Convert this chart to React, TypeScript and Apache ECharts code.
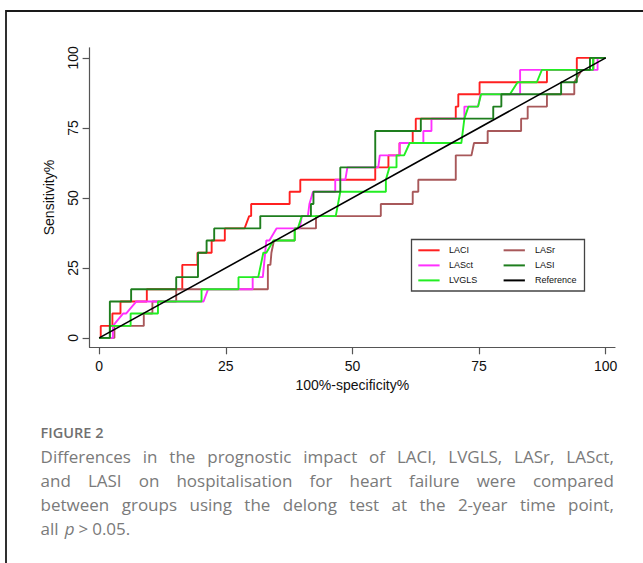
import React, { useEffect, useRef } from "react";
import * as echarts from "echarts";

// ---------- data ----------
const xTicks = [0, 25, 50, 75, 100];
const yTicks = [0, 25, 50, 75, 100];

const laci: number[][] = [
  [0, 0], [0.3, 0], [0.3, 4.3], [2.6, 4.3], [2.6, 8.7], [4.2, 8.7], [4.2, 13.0], [9.4, 13.0], [9.4, 17.4],
  [16.4, 17.4], [16.4, 26.1], [19.4, 26.1], [19.4, 30.4], [22.2, 30.4], [22.2, 34.8], [24.8, 34.8], [24.8, 39.1],
  [28.7, 39.1], [29.6, 43.5], [30.0, 43.5], [30.0, 47.8], [37.6, 47.8], [37.6, 52.2], [39.7, 52.2], [39.7, 56.5],
  [54.5, 56.5], [54.5, 60.9], [57.1, 60.9], [57.1, 65.2], [59.3, 65.2], [59.3, 69.6], [61.9, 69.6], [61.9, 73.9],
  [62.5, 73.9], [62.5, 78.3], [70.4, 78.3], [70.4, 82.6], [70.9, 82.6], [70.9, 87.0], [75.1, 87.0], [75.1, 91.3],
  [88.4, 91.3], [88.4, 95.7], [94.3, 95.7], [94.3, 100], [100, 100],
];

const lasr: number[][] = [
  [0, 0], [3.0, 0], [3.0, 4.3], [8.8, 4.3], [8.8, 8.7], [10.5, 8.7], [10.5, 13.0], [15.2, 13.0], [15.2, 17.4],
  [33.3, 17.4], [33.3, 26.1], [33.8, 26.1], [34.0, 30.4], [34.5, 34.8], [38.6, 34.8], [38.6, 39.1], [42.8, 39.1],
  [42.8, 43.5], [55.6, 43.5], [55.6, 47.8], [61.9, 47.8], [61.9, 52.2], [63.0, 52.2], [63.0, 56.5], [70.4, 56.5],
  [70.4, 65.2], [73.5, 65.2], [74.0, 69.6], [76.7, 69.6], [76.7, 73.9], [83.3, 73.9], [83.3, 78.3], [84.6, 78.3],
  [84.6, 82.6], [88.4, 82.6], [88.4, 87.0], [93.8, 87.0], [93.8, 91.3], [95.3, 95.7], [97.6, 95.7], [97.6, 100],
  [100, 100],
];

const lasct: number[][] = [
  [0, 0], [2.7, 0], [2.7, 4.3], [4.7, 8.7], [5.3, 8.7], [7.3, 13.0], [20.6, 13.0], [21.5, 17.4], [30.3, 17.4],
  [30.3, 21.7], [32.3, 21.7], [33.0, 34.8], [33.6, 34.8], [35.0, 39.1], [39.6, 39.1], [40.0, 43.5], [41.2, 43.5],
  [41.5, 47.8], [42.2, 52.2], [46.6, 52.2], [46.6, 56.5], [48.6, 56.5], [49.0, 60.9], [55.1, 60.9], [55.4, 65.2],
  [59.3, 65.2], [59.3, 69.6], [64.0, 69.6], [64.0, 73.9], [65.6, 73.9], [65.6, 78.3], [72.1, 78.3], [72.1, 82.6],
  [74.8, 82.6], [75.3, 87.0], [83.1, 87.0], [83.1, 95.7], [98.4, 95.7], [98.4, 100], [100, 100],
];

const lvgls: number[][] = [
  [0, 0], [2.1, 0], [2.1, 4.3], [6.2, 4.3], [6.2, 8.7], [11.6, 8.7], [11.6, 13.0], [20.2, 13.0], [20.2, 17.4],
  [27.5, 17.4], [27.5, 21.7], [31.4, 21.7], [32.4, 30.4], [33.0, 30.4], [34.4, 34.8], [38.6, 34.8], [38.6, 39.1],
  [39.2, 39.1], [40.0, 43.5], [46.7, 43.5], [47.6, 52.2], [56.6, 52.2], [56.6, 56.5], [57.3, 60.9], [58.7, 60.9],
  [58.7, 65.2], [60.2, 65.2], [61.3, 69.6], [71.5, 69.6], [72.1, 78.3], [72.9, 82.6], [74.8, 82.6], [75.4, 87.0],
  [81.1, 87.0], [82.6, 91.3], [86.4, 91.3], [87.4, 95.7], [97.5, 95.7], [97.5, 100], [100, 100],
];

const lasi: number[][] = [
  [0, 0], [2.1, 0], [2.1, 13.0], [6.3, 13.0], [6.3, 17.4], [15.2, 17.4], [15.2, 21.7], [19.5, 21.7], [19.5, 30.4],
  [21.2, 30.4], [21.2, 34.8], [22.7, 34.8], [22.7, 39.1], [31.8, 39.1], [31.8, 43.5], [41.8, 43.5], [41.8, 47.8],
  [42.3, 47.8], [42.3, 52.2], [47.6, 52.2], [47.6, 60.9], [54.5, 60.9], [54.5, 73.9], [63.5, 73.9], [63.5, 78.3],
  [77.8, 78.3], [77.8, 82.6], [79.4, 82.6], [79.4, 87.0], [91.2, 87.0], [91.2, 91.3], [94.3, 91.3], [94.3, 95.7],
  [96.9, 95.7], [96.9, 100], [100, 100],
];

const reference: number[][] = [[0, 0], [100, 100]];

const seriesNames = ["LACI", "LASr", "LASct", "LVGLS", "LASI", "Reference"];
const seriesData = [laci, lasr, lasct, lvgls, lasi, reference];
const seriesColors = ["#ff2020", "#a8585a", "#ff30ff", "#22ee22", "#1e7e1e", "#000000"];

// legend layout order (column-major as in the reference)
const legendCol1 = ["LACI", "LASct", "LVGLS"];
const legendCol2 = ["LASr", "LASI", "Reference"];

const xTitle = "100%-specificity%";
const yTitle = "Sensitivity%";

const captionTitle = "FIGURE 2";
const captionLines = [
  "Differences in the prognostic impact of LACI, LVGLS, LASr, LASct,",
  "and LASI on hospitalisation for heart failure were compared",
  "between groups using the delong test at the 2-year time point,",
];

const AXIS_FONT = "'Liberation Sans', Arial, sans-serif";
const CAP_FONT = "'Open Sans', sans-serif";

export default function App() {
  const ref = useRef<HTMLDivElement>(null);

  useEffect(() => {
    if (!ref.current) return;
    const chart = echarts.init(ref.current, undefined, { renderer: "svg" });

    const colorOf = (n: string) => seriesColors[seriesNames.indexOf(n)];

    // legend graphics
    const legendEls: any[] = [
      {
        type: "rect",
        shape: { x: 411.5, y: 239.5, width: 173, height: 51.5 },
        style: { fill: "#fff", stroke: "#444", lineWidth: 1.3 },
        z: 10,
      },
    ];
    const rowsY = [250.3, 265.4, 280.4];
    [legendCol1, legendCol2].forEach((col, ci) => {
      const lx = ci === 0 ? 418.3 : 503.6;
      const tx = ci === 0 ? 449 : 535;
      col.forEach((name, ri) => {
        legendEls.push({
          type: "line",
          shape: { x1: lx, y1: rowsY[ri], x2: lx + 21.3, y2: rowsY[ri] },
          style: { stroke: colorOf(name), lineWidth: 2 },
          z: 11,
        });
        legendEls.push({
          type: "text",
          x: tx,
          y: rowsY[ri],
          style: {
            text: name,
            font: `9px ${AXIS_FONT}`,
            fill: "#111",
            textVerticalAlign: "middle",
            verticalAlign: "middle",
          },
          z: 11,
        });
      });
    });

    // caption graphics (justified lines)
    const canvas = document.createElement("canvas");
    const ctx = canvas.getContext("2d")!;
    const capSize = 17;
    const capFontStr = `${capSize}px "Open Sans"`;
    ctx.font = capFontStr;
    const X0 = 40.6;
    const X1 = 613.8;
    const lineYs = [456.2, 480.4, 504.6, 528.0];
    const capColor = "#7a7a7a";
    const capEls: any[] = [];
    captionLines.forEach((line, li) => {
      const words = line.split(" ");
      const widths = words.map((w) => ctx.measureText(w).width);
      const total = widths.reduce((a, b) => a + b, 0);
      const gap = (X1 - X0 - total) / (words.length - 1);
      let x = X0;
      words.forEach((w, i) => {
        capEls.push({
          type: "text",
          x,
          y: lineYs[li],
          style: {
            text: w,
            font: `${capSize}px ${CAP_FONT}`,
            fill: capColor,
            verticalAlign: "middle",
          },
        });
        x += widths[i] + gap;
      });
    });
    // last line: "all p > 0.05."
    {
      const y = lineYs[3];
      const wAll = ctx.measureText("all").width;
      ctx.font = `italic ${capSize}px "Open Sans"`;
      const wP = ctx.measureText("p").width;
      ctx.font = capFontStr;
      const wGt = ctx.measureText(">").width;
      const xP = X0 + wAll + 6;
      const xGt = xP + wP + 4;
      const xNum = xGt + wGt + 4;
      capEls.push({ type: "text", x: X0, y, style: { text: "all", font: `${capSize}px ${CAP_FONT}`, fill: capColor, verticalAlign: "middle" } });
      capEls.push({ type: "text", x: xP, y, style: { text: "p", font: `italic ${capSize}px ${CAP_FONT}`, fill: capColor, verticalAlign: "middle" } });
      capEls.push({ type: "text", x: xGt, y, style: { text: ">", font: `${capSize}px ${CAP_FONT}`, fill: capColor, verticalAlign: "middle" } });
      capEls.push({ type: "text", x: xNum, y, style: { text: "0.05.", font: `${capSize}px ${CAP_FONT}`, fill: capColor, verticalAlign: "middle" } });
    }
    capEls.push({
      type: "text",
      x: 40.6,
      y: 432,
      style: {
        text: captionTitle,
        font: `600 14.5px ${CAP_FONT}`,
        fill: "#707070",
        verticalAlign: "middle",
      },
    });

    const option: any = {
      animation: false,
      backgroundColor: "#ffffff",
      grid: {
        left: 89.6,
        right: 643 - 615,
        top: 47.8,
        bottom: 563 - 347.3,
        containLabel: false,
        outerBoundsMode: "none",
      },
      xAxis: {
        type: "value",
        min: -1.9,
        max: 101.84,
        axisLine: { show: true, onZero: false, lineStyle: { color: "#555", width: 1.2 } },
        axisTick: { show: true, length: 7, customValues: xTicks, lineStyle: { color: "#555", width: 1.2 } },
        axisLabel: { customValues: xTicks, margin: 12, fontSize: 14, color: "#111", fontFamily: AXIS_FONT },
        splitLine: { show: false },
        name: xTitle,
        nameLocation: "middle",
        nameGap: 26,
        nameTextStyle: { fontSize: 14, color: "#111", fontFamily: AXIS_FONT },
      },
      yAxis: {
        type: "value",
        min: -3.35,
        max: 103.6,
        axisLine: { show: true, onZero: false, lineStyle: { color: "#555", width: 1.2 } },
        axisTick: { show: true, length: 7, customValues: yTicks, lineStyle: { color: "#555", width: 1.2 } },
        axisLabel: { customValues: yTicks, margin: 9.5, rotate: 90, fontSize: 14, color: "#111", fontFamily: AXIS_FONT },
        splitLine: { show: false },
        name: yTitle,
        nameLocation: "middle",
        nameGap: 34,
        nameTextStyle: { fontSize: 14, color: "#111", fontFamily: AXIS_FONT },
      },
      series: seriesNames.map((name, i) => ({
        name,
        type: "line",
        data: seriesData[i],
        showSymbol: false,
        symbol: "none",
        silent: true,
        lineStyle: { color: seriesColors[i], width: name === "Reference" ? 1.6 : 1.9 },
        itemStyle: { color: seriesColors[i] },
        z: 2 + i,
      })),
      graphic: [
        {
          type: "rect",
          shape: { x: 6, y: 11, width: 700, height: 620 },
          style: { fill: "none", stroke: "#1a1a1a", lineWidth: 1.8 },
          silent: true,
        },
        ...legendEls,
        ...capEls,
      ],
    };

    chart.setOption(option);
    return () => chart.dispose();
  }, []);

  return (
    <div
      ref={ref}
      style={{ position: "absolute", left: 0, top: 0, width: 643, height: 563 }}
    />
  );
}
